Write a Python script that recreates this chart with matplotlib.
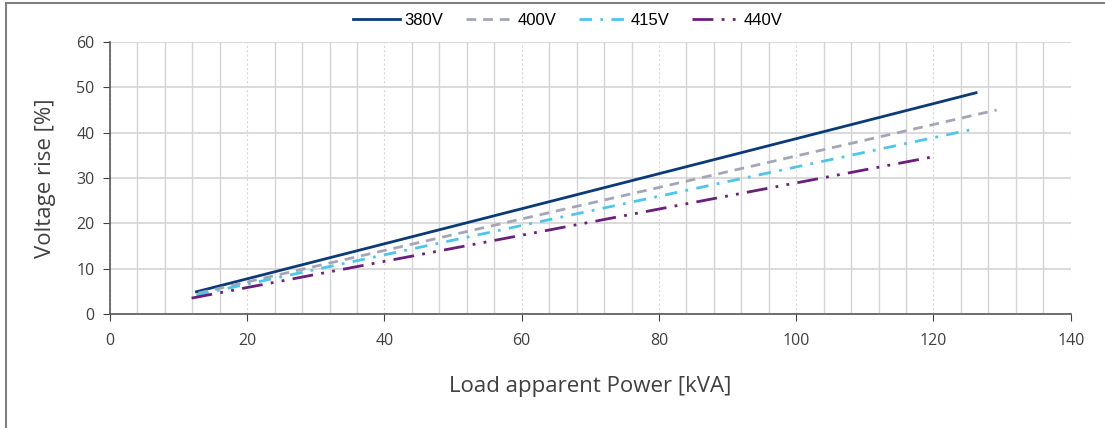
import matplotlib
matplotlib.use("Agg")
import matplotlib.pyplot as plt
from matplotlib.ticker import MultipleLocator
from matplotlib.patches import Rectangle

# load [kVA] vs voltage rise [%]
kva_380 = [12.6, 126.2]
rise_380 = [4.9, 48.8]
kva_400 = [12.9, 129.2]
rise_400 = [4.6, 45.0]
kva_415 = [12.6, 125.9]
rise_415 = [4.2, 40.8]
kva_440 = [11.9, 119.7]
rise_440 = [3.5, 34.6]

labels = ["380V", "400V", "415V", "440V"]
colors = ["#0b3a78", "#a4a6b8", "#4cc6ea", "#6a1f7a"]
styles = ["-", (0, (3.5, 2.5)), (0, (4.5, 3, 1, 3)), (0, (7.5, 3, 1, 3, 1, 3))]

fig = plt.figure(figsize=(11.05, 4.28), dpi=100)
ax = fig.add_axes([0.0995, 0.2664, 0.8695, 0.6355])

series = [(kva_380, rise_380), (kva_400, rise_400), (kva_415, rise_415), (kva_440, rise_440)]
for (x, y), lab, c, ls in zip(series, labels, colors, styles):
    ax.plot(x, y, color=c, linestyle=ls, lw=2.0, label=lab, zorder=3)

ax.set_xlim(0, 140)
ax.set_ylim(0, 60)
ax.xaxis.set_major_locator(MultipleLocator(20))
ax.xaxis.set_minor_locator(MultipleLocator(4))
ax.yaxis.set_major_locator(MultipleLocator(10))

# grid: solid minor lines, faint dashed majors on x
ax.grid(which="minor", axis="x", color="#d4d4d4", lw=1.0)
ax.grid(which="major", axis="x", color="#d8d8d8", lw=0.8, linestyle=(0, (2, 2)))
ax.grid(which="major", axis="y", color="#d4d4d4", lw=1.2)
ax.set_axisbelow(True)

for s in ["top", "right"]:
    ax.spines[s].set_visible(False)
for s in ["left", "bottom"]:
    ax.spines[s].set_color("#595959")
    ax.spines[s].set_linewidth(1.2)

ax.tick_params(axis="both", which="major", direction="out", length=5, color="#404040",
               labelsize=11.5, labelcolor="#404040", pad=6)
ax.tick_params(axis="x", which="minor", length=0)
ax.tick_params(axis="x", which="major", pad=9)
for t in ax.get_xticklabels() + ax.get_yticklabels():
    t.set_fontfamily("Open Sans")

ax.set_xlabel("Load apparent Power [kVA]", fontsize=16, color="#404040",
              family="Open Sans", labelpad=19)
ax.set_ylabel("Voltage rise [%]", fontsize=16, color="#404040",
              family="Open Sans", labelpad=15)

leg = fig.legend(loc="center", bbox_to_anchor=(0.514, 0.953), ncol=4, frameon=False,
                 handlelength=2.8, columnspacing=1.35, handletextpad=0.3,
                 prop={"family": "Liberation Sans", "size": 12})

# outer frame (left and top edge visible in the reference)
fig.patches.append(Rectangle((6 / 1105, -0.1), 1.2, (428 - 3) / 428 + 0.1,
                             transform=fig.transFigure, fill=False,
                             edgecolor="#7f7f7f", lw=1.5))

fig.savefig("out.png", dpi=100)
